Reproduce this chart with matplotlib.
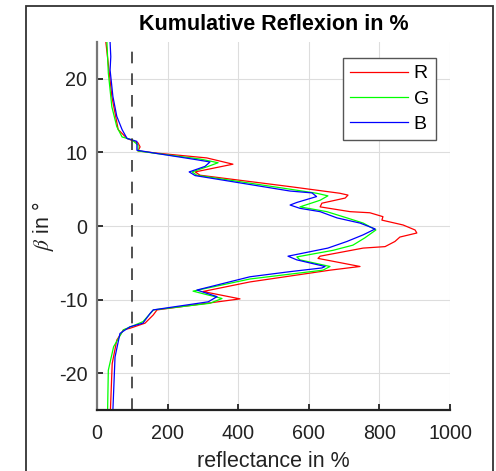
import matplotlib.pyplot as plt
from matplotlib.patches import Rectangle

plt.rcParams['font.family'] = ['Liberation Sans', 'DejaVu Sans']
plt.rcParams['axes.unicode_minus'] = False
plt.rcParams['mathtext.fontset'] = 'stix'

# beta (deg) and reflectance (%)
beta_r = [25, 22, 17.6, 13.1, 11.9, 11.3, 10.75, 10.2, 9.9, 9.25, 8.4, 7.35, 6.9, 5.35, 4.45, 4.2,
          3.8, 3.1, 2.6, 1.95, 1.8, 1.27, 0.8, 0.14, -0.54, -0.95, -1.5, -2.1, -2.8, -3.0, -4.1,
          -4.4, -5.5, -6.0, -7.6, -8.9, -9.9, -11.4, -12.1, -13.2, -13.9, -14.1, -15.5, -18.7, -25]
refl_r = [25, 32, 42, 60, 85, 116, 122, 116, 170, 311, 385, 278, 292, 547, 688, 711,
          703, 637, 632, 717, 773, 810, 807, 867, 901, 906, 858, 844, 816, 754, 632,
          626, 745, 660, 433, 300, 405, 170, 159, 136, 93, 75, 56, 43, 38]

beta_g = [25, 20.8, 16.2, 13.5, 12.1, 11.7, 11.0, 10.2, 9.85, 9.1, 8.6, 8.1, 7.35, 6.9, 5.0,
          4.45, 4.1, 3.5, 2.6, 1.95, 1.1, 0.4, -0.54, -1.6, -2.6, -3.3, -4.2, -4.6, -5.5, -6.0,
          -7.2, -8.85, -9.85, -10.5, -11.4, -13.0, -14.1, -16.4, -19.6, -25]
refl_g = [28, 32, 42, 56, 71, 99, 116, 116, 170, 292, 343, 315, 269, 283, 547,
          622, 654, 632, 575, 651, 708, 754, 790, 759, 725, 669, 566, 575, 660, 640,
          433, 272, 354, 320, 160, 130, 75, 47, 32, 30]

beta_b = [25, 23, 21.2, 17.6, 14.9, 13.1, 11.9, 11.5, 10.3, 9.85, 9.0, 8.7, 8.1, 7.35, 6.85, 4.75,
          4.5, 4.0, 3.2, 2.85, 2.4, 1.95, 1.1, 0.4, -0.4, -1.2, -2.1, -3.0, -4.1, -4.6, -5.5,
          -5.7, -6.2, -6.9, -8.7, -9.6, -10.3, -11.4, -11.9, -13.2, -13.7, -14.6, -17.8, -25]
refl_b = [37, 39, 37, 45, 56, 71, 85, 113, 113, 170, 283, 320, 306, 261, 278, 547,
          609, 622, 566, 547, 575, 632, 680, 745, 788, 754, 708, 654, 541, 566, 646,
          637, 547, 433, 283, 340, 315, 159, 150, 130, 93, 65, 51, 45]

threshold = 100

fig = plt.figure(figsize=(4.96, 4.71), dpi=100)
ax = fig.add_axes([0.1956, 0.1295, 0.7117, 0.7813])

ax.plot(refl_r, beta_r, color='#ff0000', lw=0.9, label='R')
ax.plot(refl_g, beta_g, color='#00ff00', lw=0.9, label='G')
ax.plot(refl_b, beta_b, color='#0000ff', lw=0.9, label='B')
ax.axvline(threshold, color='#333333', lw=1.2, dashes=(7, 6))

ax.set_xlim(0, 1000)
ax.set_ylim(-25, 25)
ax.set_xticks([0, 200, 400, 600, 800, 1000])
ax.set_yticks([-20, -10, 0, 10, 20])
ax.grid(True, color='#dddddd', lw=0.8)
ax.set_axisbelow(True)
ax.tick_params(direction='in', length=4, width=1.3, labelsize=14.2, colors='#222222')
ax.tick_params(axis='x', pad=10)
ax.tick_params(axis='y', pad=7)
ax.spines['top'].set_visible(False)
ax.spines['right'].set_visible(False)
ax.spines['left'].set_color('#777777')
ax.spines['left'].set_linewidth(1.6)
ax.spines['bottom'].set_color('#222222')
ax.spines['bottom'].set_linewidth(1.6)

ax.set_title('Kumulative Reflexion in %', fontsize=15.5, fontweight='bold', pad=9)
ax.set_xlabel('reflectance in %', fontsize=15.5, color='#222222', labelpad=6)
ax.set_ylabel(r'$\beta$ in °', fontsize=15.5, color='#222222', labelpad=2)

leg = ax.legend(loc='upper right', bbox_to_anchor=(0.96, 0.9565), borderaxespad=0,
                fontsize=14, handlelength=3.0, labelspacing=0.4, fancybox=False, framealpha=1,
                edgecolor='#555555', borderpad=0.35, handletextpad=0.3)
leg.get_frame().set_linewidth(1.0)

# outer frame
fig.patches.append(Rectangle((0.0524, -0.1), 0.9416, 1.087, transform=fig.transFigure,
                             fill=False, edgecolor='#333333', lw=1.3, clip_on=False))

fig.savefig('out.png', dpi=100)
